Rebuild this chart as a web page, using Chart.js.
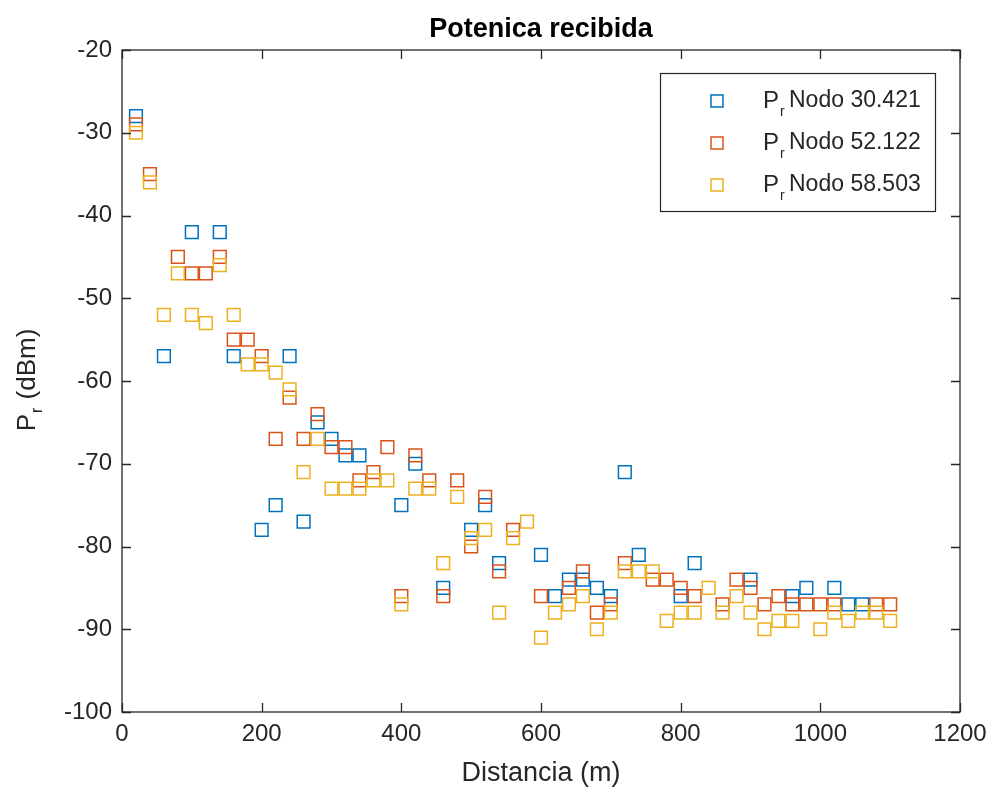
<!DOCTYPE html>
<html>
<head>
<meta charset="utf-8">
<title>Potenica recibida</title>
<script src="https://cdn.jsdelivr.net/npm/chart.js@4.4.1/dist/chart.umd.min.js"></script>
<style>
    body { margin: 0; background: #fff; }
    #wrap { width: 988px; height: 794px; position: relative; }
</style>
</head>
<body>
<div id="wrap"><canvas id="myChart"></canvas></div>
<script>
// datos
const xTicks = [0, 200, 400, 600, 800, 1000, 1200]
const yTicks = [-100, -90, -80, -70, -60, -50, -40, -30, -20]
const nombres = ['Nodo 30.421', 'Nodo 52.122', 'Nodo 58.503']

const distA = [20, 60, 100, 140, 160, 200, 220, 240, 260, 280, 300, 320, 340, 400, 420, 460, 500, 520, 540, 600,
    620, 640, 660, 680, 700, 720, 740, 800, 820, 900, 960, 980, 1020, 1040, 1060]
const potA = [-28, -57, -42, -42, -57, -78, -75, -57, -77, -65, -67, -69, -69, -75, -70, -85, -78, -75, -82, -81,
    -86, -84, -84, -85, -86, -71, -81, -86, -82, -84, -86, -85, -85, -87, -87]

const distB = [20, 40, 80, 100, 120, 140, 160, 180, 200, 220, 240, 260, 280, 300, 320, 340, 360, 380, 400, 420,
    440, 460, 480, 500, 520, 540, 560, 600, 640, 660, 680, 700, 720, 760, 780, 800, 820, 860, 880, 900,
    920, 940, 960, 980, 1000, 1020, 1080, 1100]
const potB = [-29, -35, -45, -47, -47, -45, -55, -55, -57, -67, -62, -67, -64, -68, -68, -72, -71, -68, -86, -69,
    -72, -86, -72, -80, -74, -83, -78, -86, -85, -83, -88, -87, -82, -84, -84, -85, -86, -87, -84, -85,
    -87, -86, -87, -87, -87, -87, -87, -87]

const distC = [20, 40, 60, 80, 100, 120, 140, 160, 180, 200, 220, 240, 260, 280, 300, 320, 340, 360, 380, 400,
    420, 440, 460, 480, 500, 520, 540, 560, 580, 600, 620, 640, 660, 680, 700, 720, 740, 760, 780, 800,
    820, 840, 860, 880, 900, 920, 940, 960, 1000, 1020, 1040, 1060, 1080, 1100]
const potC = [-30, -36, -52, -47, -52, -53, -46, -52, -58, -58, -59, -61, -71, -67, -73, -73, -73, -72, -72, -87,
    -73, -73, -82, -74, -79, -78, -88, -79, -77, -91, -88, -87, -86, -90, -88, -83, -83, -83, -89, -88,
    -88, -85, -88, -86, -88, -90, -89, -89, -90, -88, -89, -88, -88, -89]

const colores = ['#0072BD', '#D95319', '#EDB120']
const ejes = '#262626'
const fuente = '"Liberation Sans", Arial, sans-serif'

const puntos = (xs, ys) => xs.map((x, i) => ({ x: x, y: ys[i] }))

// marco, marcas, titulos y leyenda estilo matlab
const estiloMatlab = {
    id: 'estiloMatlab',
    afterDraw(chart) {
        const c = chart.ctx
        const a = chart.chartArea
        const sx = chart.scales.x
        const sy = chart.scales.y
        c.save()
        c.strokeStyle = ejes
        c.lineWidth = 1.3
        c.strokeRect(a.left, a.top, a.right - a.left, a.bottom - a.top)
        c.beginPath()
        xTicks.forEach(v => {
            const px = Math.round(sx.getPixelForValue(v)) + 0.5
            c.moveTo(px, a.bottom); c.lineTo(px, a.bottom - 9)
            c.moveTo(px, a.top); c.lineTo(px, a.top + 9)
        })
        yTicks.forEach(v => {
            const py = Math.round(sy.getPixelForValue(v)) + 0.5
            c.moveTo(a.left, py); c.lineTo(a.left + 9, py)
            c.moveTo(a.right, py); c.lineTo(a.right - 9, py)
        })
        c.stroke()

        const cx = (a.left + a.right) / 2
        c.fillStyle = '#000'
        c.textAlign = 'center'
        c.textBaseline = 'middle'
        c.font = 'bold 27px ' + fuente
        c.fillText('Potenica recibida', cx, 30)

        c.fillStyle = ejes
        c.font = '27px ' + fuente
        c.fillText('Distancia (m)', cx, 774)

        // eje y con subindice
        c.save()
        c.translate(28, (a.top + a.bottom) / 2)
        c.rotate(-Math.PI / 2)
        c.textAlign = 'left'
        c.font = '26px ' + fuente
        const wP = c.measureText('P').width
        c.font = '16px ' + fuente
        const wr = c.measureText('r').width
        c.font = '26px ' + fuente
        const wRest = c.measureText(' (dBm)').width
        let x0 = -(wP + wr + wRest) / 2
        c.fillText('P', x0, 0)
        c.font = '16px ' + fuente
        c.fillText('r', x0 + wP + 1, 10)
        c.font = '26px ' + fuente
        c.fillText(' (dBm)', x0 + wP + wr + 2, 0)
        c.restore()

        // leyenda
        const lx = 660, ly = 73, lw = 275, lh = 138
        c.fillStyle = '#fff'
        c.fillRect(lx, ly, lw, lh)
        c.strokeStyle = ejes
        c.lineWidth = 1.2
        c.strokeRect(lx + 0.5, ly + 0.5, lw, lh)
        const filas = [101, 143, 185]
        nombres.forEach((n, i) => {
            const yy = filas[i]
            c.strokeStyle = colores[i]
            c.lineWidth = 1.5
            c.strokeRect(711, yy - 6, 12, 12)
            c.fillStyle = ejes
            c.textAlign = 'left'
            c.font = '24px ' + fuente
            c.fillText('P', 763, yy)
            const w = c.measureText('P').width
            c.font = '14px ' + fuente
            c.fillText('r', 763 + w + 1, yy + 11)
            c.font = '23px ' + fuente
            c.fillText(n, 763 + w + 10, yy)
        })
        c.restore()
    }
}

var ctx = document.getElementById('myChart').getContext('2d');
var myChart = new Chart(ctx, {
    type: 'scatter',
    data: {
        datasets: [
            { label: 'Pr ' + nombres[0], data: puntos(distA, potA), borderColor: colores[0], order: 3 },
            { label: 'Pr ' + nombres[1], data: puntos(distB, potB), borderColor: colores[1], order: 2 },
            { label: 'Pr ' + nombres[2], data: puntos(distC, potC), borderColor: colores[2], order: 1 }
        ]
    },
    options: {
        responsive: true,
        maintainAspectRatio: false,
        animation: false,
        layout: { padding: { top: 50, right: 28, left: 0, bottom: 0 } },
        elements: {
            point: {
                pointStyle: 'rect',
                radius: 9,
                borderWidth: 1.5,
                backgroundColor: 'rgba(0,0,0,0)'
            }
        },
        plugins: {
            legend: { display: false },
            tooltip: { enabled: false }
        },
        scales: {
            x: {
                type: 'linear',
                min: 0,
                max: 1200,
                afterFit: s => { s.height = 82; s.paddingLeft = 0; s.paddingRight = 0 },
                afterBuildTicks: s => { s.ticks = xTicks.map(v => ({ value: v })) },
                grid: { display: false, drawTicks: false },
                border: { display: false },
                ticks: { padding: 8, color: ejes, font: { size: 24, family: fuente }, callback: v => String(v) }
            },
            y: {
                type: 'linear',
                min: -100,
                max: -20,
                afterFit: s => { s.width = 122; s.paddingTop = 0; s.paddingBottom = 0 },
                afterBuildTicks: s => { s.ticks = yTicks.map(v => ({ value: v })) },
                grid: { display: false, drawTicks: false },
                border: { display: false },
                ticks: { padding: 10, color: ejes, font: { size: 24, family: fuente }, callback: v => String(v) }
            }
        }
    },
    plugins: [estiloMatlab]
});
</script>
</body>
</html>
